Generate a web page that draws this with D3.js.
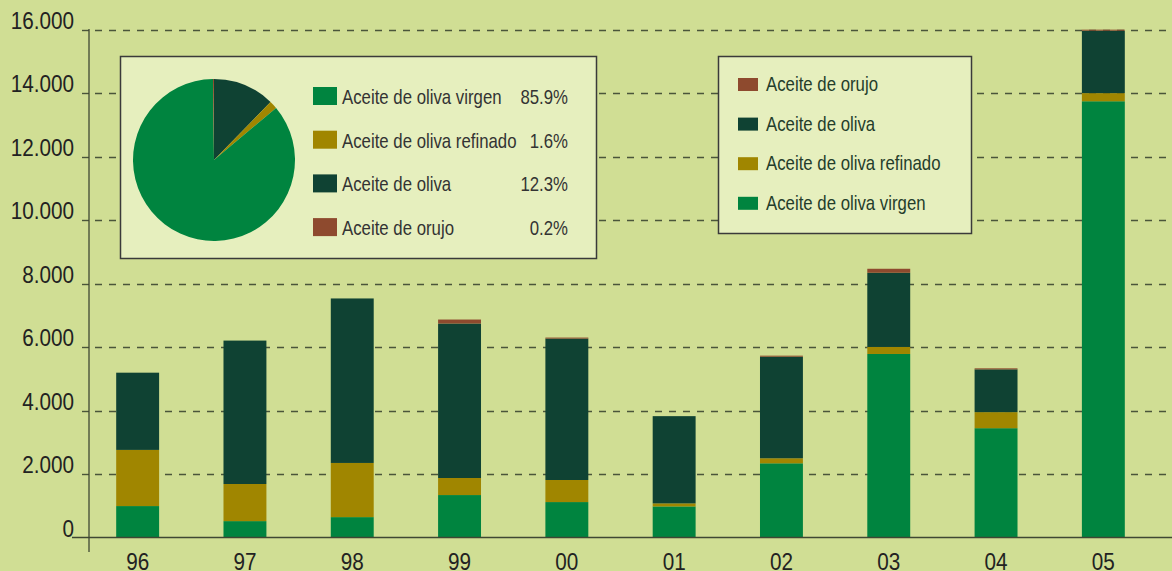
<!DOCTYPE html>
<html>
<head>
<meta charset="utf-8">
<script src="https://cdn.jsdelivr.net/npm/d3@7"></script>
<style>
  body { margin:0; background:#d0de94; }
  svg { display:block; font-family:"Liberation Sans Narrow","Arial Narrow","Liberation Sans",sans-serif; }
</style>
</head>
<body>
<div id="chart"></div>
<script>
// years (two digit) and tonnes per product
var years   = ["96","97","98","99","00","01","02","03","04","05"];
var virgen  = [990, 516, 642, 1337, 1116, 979, 2337, 5780, 3443, 13740];
var refin   = [1769, 1169, 1706, 537, 695, 95, 158, 221, 505, 256];
var oliva   = [2432, 4517, 5181, 4865, 4454, 2748, 3200, 2337, 1348, 1967];
var orujo   = [0, 0, 0, 126, 32, 0, 32, 126, 32, 32];
var yTicks  = [0, 2000, 4000, 6000, 8000, 10000, 12000, 14000, 16000];

// pie (share 2005)
var pieNames = ["Aceite de oliva virgen","Aceite de oliva refinado","Aceite de oliva","Aceite de orujo"];
var pieShare = [85.9, 1.6, 12.3, 0.2];
var pieLabels = ["85.9%","1.6%","12.3%","0.2%"];

var keys   = ["virgen","refin","oliva","orujo"];
var colors = {virgen:"#00843f", refin:"#a08600", oliva:"#0f4233", orujo:"#8e4a2e"};
var names  = {virgen:"Aceite de oliva virgen", refin:"Aceite de oliva refinado", oliva:"Aceite de oliva", orujo:"Aceite de orujo"};

var W = 1172, H = 571;
var svg = d3.select("#chart").append("svg").attr("width", W).attr("height", H);
svg.append("rect").attr("width", W).attr("height", H).attr("fill", "#d0de94");

// narrow look: squeeze text horizontally
function tr(px, py, sx) { return "translate(" + px + "," + py + ") scale(" + sx + ",1)"; }

var x = d3.scaleBand().domain(years).range([84, 1157]).paddingInner(0.6).paddingOuter(0.3);
var y = d3.scaleLinear().domain([0, 16000]).range([537.5, 29.5]);

// grid lines
var grid = svg.append("g");
grid.selectAll("line").data(yTicks.filter(function(d){ return d > 0; })).enter().append("line")
  .attr("x1", 89).attr("x2", W)
  .attr("y1", function(d){ return Math.round(y(d)) + 0.5; })
  .attr("y2", function(d){ return Math.round(y(d)) + 0.5; })
  .attr("stroke", "#4a553a").attr("stroke-width", 1.4)
  .attr("stroke-dasharray", "7,7").attr("stroke-dashoffset", -6);

// small solid ticks left of axis
grid.selectAll(".tk").data(yTicks.filter(function(d){ return d > 0; })).enter().append("line")
  .attr("x1", 82).attr("x2", 89)
  .attr("y1", function(d){ return Math.round(y(d)) + 0.5; })
  .attr("y2", function(d){ return Math.round(y(d)) + 0.5; })
  .attr("stroke", "#4a553a").attr("stroke-width", 1.4);

// y labels
svg.append("g").selectAll("text").data(yTicks).enter().append("text")
  .attr("transform", function(d){ return tr(74, y(d) - 1, 0.9); })
  .attr("text-anchor", "end").attr("font-size", 23).attr("fill", "#222")
  .text(function(d){ return d === 0 ? "0" : d3.format(",")(d).replace(/,/g, "."); });

// stacked bars
var table = years.map(function(yr, i){
  return {year: yr, virgen: virgen[i], refin: refin[i], oliva: oliva[i], orujo: orujo[i]};
});
var stack = d3.stack().keys(keys)(table);

svg.append("g").selectAll("g").data(stack).enter().append("g")
  .attr("fill", function(d){ return colors[d.key]; })
  .selectAll("rect").data(function(d){ return d; }).enter().append("rect")
  .attr("x", function(d){ return x(d.data.year); })
  .attr("width", x.bandwidth())
  .attr("y", function(d){ return y(d[1]); })
  .attr("height", function(d){ return y(d[0]) - y(d[1]); });

// axes lines
svg.append("line").attr("x1", 72).attr("x2", W).attr("y1", 537.5).attr("y2", 537.5)
  .attr("stroke", "#3f4733").attr("stroke-width", 1.3);
svg.append("line").attr("x1", 89).attr("x2", 89).attr("y1", 29).attr("y2", 552)
  .attr("stroke", "#3f4733").attr("stroke-width", 1.3);

// x labels
svg.append("g").selectAll("text").data(years).enter().append("text")
  .attr("transform", function(d){ return tr(x(d) + x.bandwidth()/2, 570, 0.9); })
  .attr("text-anchor", "middle").attr("font-size", 23).attr("fill", "#222")
  .text(function(d){ return d; });

// pie box
var box1 = svg.append("g");
box1.append("rect").attr("x", 120.5).attr("y", 56.5).attr("width", 476).attr("height", 202)
  .attr("fill", "#e6efbe").attr("stroke", "#3a3a3a").attr("stroke-width", 1.5);

var pieColors = [colors.virgen, colors.refin, colors.oliva, colors.orujo];
var pieOrder = [2, 1, 0, 3];   // drawn clockwise from 12 o'clock
var pie = d3.pie().sort(null).value(function(i){ return pieShare[i]; });
var arc = d3.arc().innerRadius(0).outerRadius(81);
box1.append("g").attr("transform", "translate(214,160)")
  .selectAll("path").data(pie(pieOrder)).enter().append("path")
  .attr("d", arc).attr("fill", function(d){ return pieColors[d.data]; });

var rows1 = box1.selectAll(".row").data(pieNames).enter().append("g")
  .attr("transform", function(d, i){ return "translate(0," + (96 + i*43.7) + ")"; });
rows1.append("rect").attr("x", 313).attr("y", -9).attr("width", 24).attr("height", 18)
  .attr("fill", function(d, i){ return pieColors[i]; });
rows1.append("text").attr("transform", tr(342, 8, 0.84)).attr("font-size", 20).attr("fill", "#333")
  .text(function(d){ return d; });
rows1.append("text").attr("transform", tr(568, 8, 0.84)).attr("font-size", 20).attr("fill", "#333")
  .attr("text-anchor", "end").text(function(d, i){ return pieLabels[i]; });

// bar legend box
var box2 = svg.append("g");
box2.append("rect").attr("x", 718.5).attr("y", 56.5).attr("width", 253).attr("height", 177)
  .attr("fill", "#e6efbe").attr("stroke", "#3a3a3a").attr("stroke-width", 1.5);
var legKeys = keys.slice().reverse();
var rows2 = box2.selectAll(".row").data(legKeys).enter().append("g")
  .attr("transform", function(d, i){ return "translate(0," + (84 + i*39.6) + ")"; });
rows2.append("rect").attr("x", 738).attr("y", -6).attr("width", 20).attr("height", 13)
  .attr("fill", function(d){ return colors[d]; });
rows2.append("text").attr("transform", tr(766, 7, 0.84)).attr("font-size", 20).attr("fill", "#243d2b")
  .text(function(d){ return names[d]; });
</script>
</body>
</html>
